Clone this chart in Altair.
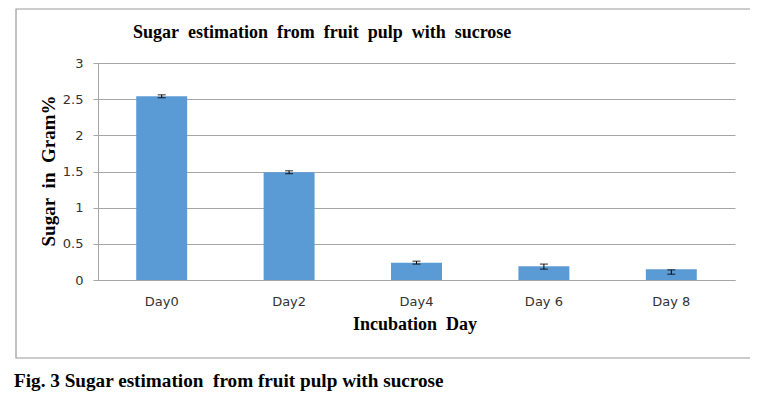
import altair as alt
import pandas as pd

days = ["Day0", "Day2", "Day4", "Day 6", "Day 8"]
sugar = [2.54, 1.49, 0.24, 0.19, 0.15]
err_low = [2.52, 1.47, 0.22, 0.15, 0.08]
err_high = [2.56, 1.51, 0.26, 0.22, 0.14]
y_ticks = [0, 0.5, 1, 1.5, 2, 2.5, 3]

NB = "\u00a0 "
chart_title = NB.join(["Sugar", "estimation", "from", "fruit", "pulp", "with", "sucrose"])
x_title = "Incubation" + NB + "Day"
y_title = NB.join(["Sugar", "in", "Gram%"])
caption = "Fig. 3 Sugar estimation" + NB + "from fruit pulp with sucrose"

df = pd.DataFrame({"day": days, "sugar": sugar, "lo": err_low, "hi": err_high})

W, H = 637, 217
SERIF = "Liberation Serif"
SANS = "DejaVu Sans"
GRAY = "#a6a6a6"

xaxis = alt.Axis(labelAngle=0, ticks=False, labelPadding=15,
                 labelFont=SANS, labelFontSize=13, labelColor="#333",
                 domainColor=GRAY, grid=False)
xscale = alt.Scale(paddingInner=0, paddingOuter=0)
yaxis = alt.Axis(values=y_ticks, labelExpr="'' + datum.value",
                 labelFont=SANS, labelFontSize=13, labelColor="#333",
                 tickSize=5, tickColor=GRAY, labelPadding=10,
                 domainColor=GRAY, gridColor=GRAY, gridWidth=1)
yscale = alt.Scale(domain=[0, 3], nice=False)

xn = alt.X("day:N", sort=days, title=None, scale=xscale, axis=xaxis)

def yq(field):
    return alt.Y(field + ":Q", scale=yscale, title=None, axis=yaxis)

bars = alt.Chart(df).mark_bar(color="#5B9BD5", width=alt.RelativeBandSize(0.4)).encode(
    x=xn, y=yq("sugar"))
err = alt.Chart(df).mark_rule(color="black", strokeWidth=1).encode(
    x=xn, y=yq("lo"), y2="hi:Q")
cap_lo = alt.Chart(df).mark_tick(color="black", orient="horizontal", size=8, thickness=1.2).encode(
    x=xn, y=yq("lo"))
cap_hi = alt.Chart(df).mark_tick(color="black", orient="horizontal", size=8, thickness=1.2).encode(
    x=xn, y=yq("hi"))

one = pd.DataFrame({"t": [0]})

def label(text, x, y, size, angle=0, align="left", font=SERIF):
    return alt.Chart(one).mark_text(text=text, font=font, fontSize=size, fontWeight="bold",
                                    align=align, baseline="middle", angle=angle,
                                    color="black").encode(x=alt.value(x), y=alt.value(y))

t_title = label(chart_title, 35, -30, 18)
t_ytitle = label(y_title, -49, 108, 19, angle=270, align="center")
t_xtitle = label(x_title, 317, 262, 18, align="center")
t_caption = label(caption, -84, 318, 19.2)

border = alt.Chart(one).mark_rect(fillOpacity=0, stroke="#9a9a9a", strokeWidth=1.2).encode(
    x=alt.value(-82), x2=alt.value(655), y=alt.value(-54), y2=alt.value(295))

chart = alt.layer(border, bars, err, cap_lo, cap_hi, t_title, t_ytitle, t_xtitle, t_caption).properties(
    width=W, height=H,
    autosize=alt.AutoSizeParams(type="none"),
    padding={"left": 90, "top": 55, "right": 15, "bottom": 111},
    background="white",
).configure_view(stroke=None)

chart.save("out.html", embed_options={"renderer": "svg", "actions": False})
